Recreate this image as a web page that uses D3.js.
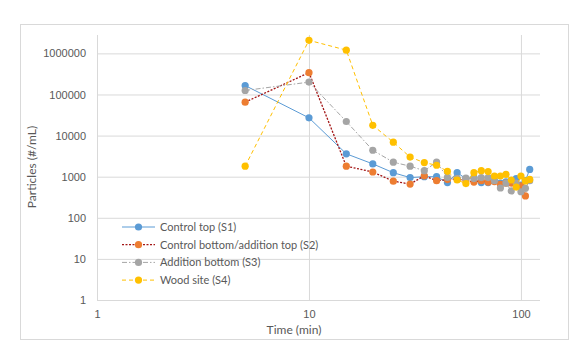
<!DOCTYPE html>
<html>
<head>
<meta charset="utf-8">
<script src="https://cdn.jsdelivr.net/npm/d3@7"></script>
<style>
  body { margin: 0; background: #fff; }
  svg { font-family: Lato, "Open Sans", sans-serif; }
</style>
</head>
<body>
<svg width="578" height="350"></svg>
<script>
const times = [5, 10, 15, 20, 25, 30, 35, 40, 45, 50, 55, 60, 65, 70, 75, 80, 85, 90, 95, 100, 105, 110];
const controlTop = [165000, 27000, 3600, 2050, 1250, 950, 1000, 1000, 720, 1250, 900, 950, 720, 720, 800, 700, 750, 800, 900, 620, 800, 1500];
const controlBottom = [65000, 340000, 1800, 1300, 780, 660, 1050, 800, 850, 880, 800, 740, 800, 740, 760, 650, 700, 700, 650, 600, 340];
const additionBottom = [125000, 200000, 22000, 4400, 2250, 1800, 1400, 2250, 960, 900, 930, 900, 950, 950, 800, 530, 700, 450, 700, 430, 520, 800];
const woodSite = [1800, 2080000, 1200000, 17800, 6900, 3000, 2200, 1900, 1350, 830, 680, 1250, 1400, 1330, 1040, 1040, 1140, 830, 560, 1040, 790, 860];
const seriesNames = ["Control top (S1)", "Control bottom/addition top (S2)", "Addition bottom (S3)", "Wood site (S4)"];
const xTicks = [1, 10, 100];
const yTicks = [1, 10, 100, 1000, 10000, 100000, 1000000];

const series = [
  { name: seriesNames[0], values: controlTop, line: "#5B9BD5", dot: "#5B9BD5", dash: null, w: 1 },
  { name: seriesNames[1], values: controlBottom, line: "#A31515", dot: "#ED7D31", dash: "2,1.5", w: 1.3 },
  { name: seriesNames[2], values: additionBottom, line: "#A5A5A5", dot: "#A5A5A5", dash: "5,2,1.5,2", w: 1 },
  { name: seriesNames[3], values: woodSite, line: "#FFC000", dot: "#FFC000", dash: "4,3", w: 1 }
];

const svg = d3.select("svg");
const plotLeft = 97, plotRight = 540, plotTop = 35, plotBottom = 300;

const x = d3.scaleLog().domain([1, 123]).range([plotLeft, plotRight]);
const y = d3.scaleLog().domain([1, 2.8e6]).range([plotBottom, plotTop]);

// chart border
svg.append("rect")
  .attr("x", 20.5).attr("y", 24.5).attr("width", 548).attr("height", 315)
  .attr("fill", "#fff").attr("stroke", "#D9D9D9");

// horizontal grid + y labels
const yAxis = svg.append("g")
  .attr("transform", `translate(${plotLeft},0)`)
  .call(d3.axisLeft(y).tickValues(yTicks).tickFormat(d3.format("d"))
    .tickSize(-(plotRight - plotLeft)).tickPadding(11));
yAxis.select(".domain").remove();
yAxis.selectAll("line").attr("stroke", "#D9D9D9");
yAxis.selectAll("text").attr("fill", "#595959").attr("font-size", "11px");

// vertical grid + x labels
const xAxis = svg.append("g")
  .attr("transform", `translate(0,${plotBottom})`)
  .call(d3.axisBottom(x).tickValues(xTicks).tickFormat(d3.format("d"))
    .tickSize(-(plotBottom - plotTop)).tickPadding(10));
xAxis.select(".domain").remove();
xAxis.selectAll("line").attr("stroke", "#D9D9D9");
xAxis.selectAll("text").attr("fill", "#595959").attr("font-size", "11px");

// axis titles
svg.append("text")
  .attr("transform", "translate(36,167) rotate(-90)")
  .attr("text-anchor", "middle")
  .attr("fill", "#595959").attr("font-size", "12px")
  .text("Particles (#/mL)");
svg.append("text")
  .attr("x", 294).attr("y", 334)
  .attr("text-anchor", "middle")
  .attr("fill", "#595959").attr("font-size", "12px")
  .text("Time (min)");

const line = d3.line()
  .x((d, i) => x(times[i]))
  .y(d => y(d));

series.forEach(s => {
  const g = svg.append("g");
  g.append("path")
    .attr("d", line(s.values))
    .attr("fill", "none")
    .attr("stroke", s.line)
    .attr("stroke-width", s.w)
    .attr("stroke-dasharray", s.dash);
  g.selectAll("circle")
    .data(s.values)
    .enter().append("circle")
    .attr("cx", (d, i) => x(times[i]))
    .attr("cy", d => y(d))
    .attr("r", 3.6)
    .attr("fill", s.dot);
});

// legend
const legend = svg.append("g").attr("transform", "translate(122,227)");
series.forEach((s, i) => {
  const row = legend.append("g").attr("transform", `translate(0,${i * 17.7})`);
  row.append("line")
    .attr("x1", 0).attr("x2", 33)
    .attr("stroke", s.line).attr("stroke-width", s.w)
    .attr("stroke-dasharray", s.dash);
  row.append("circle").attr("cx", 16.5).attr("r", 3.6).attr("fill", s.dot);
  row.append("text")
    .attr("x", 38).attr("dy", "0.35em")
    .attr("fill", "#595959").attr("font-size", "11px")
    .text(s.name);
});
</script>
</body>
</html>
